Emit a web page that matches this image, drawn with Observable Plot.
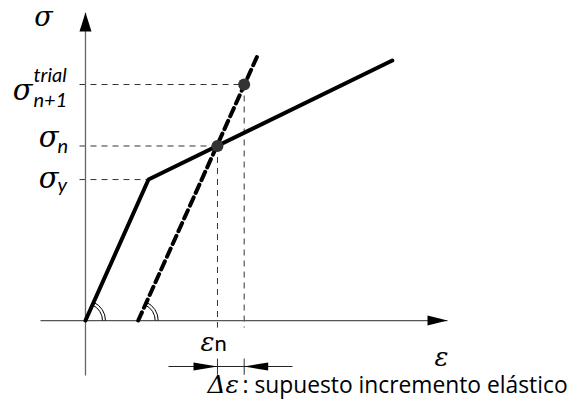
<!DOCTYPE html>
<html>
<head>
<meta charset="utf-8">
<script src="https://cdn.jsdelivr.net/npm/d3@7"></script>
<script src="https://cdn.jsdelivr.net/npm/@observablehq/plot@0.6"></script>
<style>
  html, body { margin: 0; padding: 0; background: #fff; }
  #chart svg { display: block; }
</style>
</head>
<body>
<div id="chart"></div>
<script>
// Strain ε and stress σ, both in units of the yield point (εy = σy = 1).
const pathEps = [0, 1.0, 4.87];        // elastic branch, then hardening branch
const pathSig = [0, 1.0, 1.844];
const predictorEps = [0.837, 2.746];   // elastic predictor from the unloaded state
const predictorSig = [0, 1.894];
const stateEps = [2.095, 2.519];       // converged state n, trial state n+1
const stateSig = [1.238, 1.674];
const yieldEps = 1.0;
const yieldSig = 1.0;
const axisEps = [-0.714, 5.746];       // extent of the ε axis
const axisSig = [-0.39, 2.184];        // extent of the σ axis
const guideStartEps = -0.095;          // where the dashed σ guides begin
const guideEndSig = -0.05;             // where the dashed ε guides end
const tickSig = [-0.27, -0.385];       // dimension ticks below the ε axis
const dimSig = -0.326;                 // Δε dimension line
const dimEps = [1.317, 3.286];
const caption = ": supuesto incremento elástico";

const W = 568, H = 409;
const xDomain = [-1.349, 7.667];
const yDomain = [-0.631, 2.27];
const kx = W / (xDomain[1] - xDomain[0]);   // px per unit strain
const ky = H / (yDomain[1] - yDomain[0]);   // px per unit stress

const pts = (xs, ys) => xs.map((x, i) => ({x, y: ys[i]}));

// filled arrowhead whose tip sits on the dot position
function arrowHead(dx, dy, len, half) {
  return {
    draw(ctx) {
      const bx = -dx * len, by = -dy * len;
      const px = -dy * half, py = dx * half;
      ctx.moveTo(0, 0);
      ctx.lineTo(bx + px, by + py);
      ctx.lineTo(bx - px, by - py);
      ctx.closePath();
    }
  };
}

// double angle arc from the ε axis up to a line of the given slope
function doubleArc(dSig, dEps, radii) {
  const theta = Math.atan2(ky * dSig, kx * dEps);
  return {
    draw(ctx) {
      for (const r of radii) {
        ctx.moveTo(r, 0);
        ctx.arc(0, 0, r, 0, -theta, true);
      }
    }
  };
}

const greek = {fontFamily: "DejaVu Serif", fontStyle: "italic", fill: "black", lineAnchor: "bottom"};
const latin = {fontFamily: "Lato", fill: "black", lineAnchor: "bottom"};

const yieldPt = {x: yieldEps, y: yieldSig};
const stateN = {x: stateEps[0], y: stateSig[0]};
const stateT = {x: stateEps[1], y: stateSig[1]};

const chart = Plot.plot({
  width: W,
  height: H,
  margin: 0,
  x: {domain: xDomain, axis: null},
  y: {domain: yDomain, axis: null},
  marks: [
    // dashed guides to the σ axis
    Plot.link([yieldPt, stateN, stateT], {
      x1: guideStartEps, y1: "y", x2: "x", y2: "y",
      stroke: "#333", strokeWidth: 1, strokeDasharray: "6,5"
    }),
    // dashed guides down to the ε axis
    Plot.link([stateN, stateT], {
      x1: "x", y1: "y", x2: "x", y2: guideEndSig,
      stroke: "#333", strokeWidth: 1, strokeDasharray: "6,5"
    }),
    // dimension ticks
    Plot.link([stateN, stateT], {
      x1: "x", y1: tickSig[0], x2: "x", y2: tickSig[1],
      stroke: "#333", strokeWidth: 1
    }),
    // dimension line
    Plot.link([{}], {x1: dimEps[0], x2: dimEps[1], y1: dimSig, y2: dimSig, stroke: "#222", strokeWidth: 1}),
    // axes
    Plot.link([{}], {x1: axisEps[0], x2: axisEps[1], y1: 0, y2: 0, stroke: "#555", strokeWidth: 1.3}),
    Plot.link([{}], {x1: 0, x2: 0, y1: axisSig[0], y2: axisSig[1], stroke: "#666", strokeWidth: 1.3}),
    // angle marks
    Plot.dot([{x: pathEps[0], y: pathSig[0]}], {
      x: "x", y: "y", r: 20,
      symbol: doubleArc(pathSig[1] - pathSig[0], pathEps[1] - pathEps[0], [17, 20]),
      fill: "none", stroke: "black", strokeWidth: 1
    }),
    Plot.dot([{x: predictorEps[0], y: predictorSig[0]}], {
      x: "x", y: "y", r: 20,
      symbol: doubleArc(predictorSig[1] - predictorSig[0], predictorEps[1] - predictorEps[0], [17, 20]),
      fill: "none", stroke: "black", strokeWidth: 1
    }),
    // elastoplastic response
    Plot.line(pts(pathEps, pathSig), {x: "x", y: "y", stroke: "black", strokeWidth: 4, strokeLinejoin: "miter"}),
    // elastic predictor
    Plot.line(pts(predictorEps, predictorSig), {x: "x", y: "y", stroke: "black", strokeWidth: 4, strokeDasharray: "9,5"}),
    // states n and n+1 trial
    Plot.dot([stateN, stateT], {x: "x", y: "y", r: 6, fill: "#333", stroke: "none"}),
    // arrowheads
    Plot.dot([{x: axisEps[1], y: 0}], {x: "x", y: "y", symbol: arrowHead(1, 0, 20, 5), fill: "black", stroke: "none"}),
    Plot.dot([{x: 0, y: axisSig[1]}], {x: "x", y: "y", symbol: arrowHead(0, -1, 19, 6), fill: "black", stroke: "none"}),
    Plot.dot([{x: stateEps[0], y: dimSig}], {x: "x", y: "y", symbol: arrowHead(1, 0, 24, 4), fill: "black", stroke: "none"}),
    Plot.dot([{x: stateEps[1], y: dimSig}], {x: "x", y: "y", symbol: arrowHead(-1, 0, 24, 4), fill: "black", stroke: "none"}),
    // axis labels
    Plot.text(["σ"], {...greek, x: 0, y: axisSig[1], text: d => d, dx: -42, dy: 13, fontSize: 27, textAnchor: "middle"}),
    Plot.text(["ε"], {...greek, x: axisEps[1], y: 0, text: d => d, dx: -6, dy: 45, fontSize: 26, textAnchor: "middle"}),
    // stress levels
    Plot.text(["σ"], {...greek, x: 0, y: yieldSig, text: d => d, dx: -27, dy: 8, fontSize: 29, textAnchor: "end"}),
    Plot.text(["y"], {...latin, x: 0, y: yieldSig, text: d => d, dx: -28, dy: 12, fontSize: 20, fontStyle: "italic", textAnchor: "start"}),
    Plot.text(["σ"], {...greek, x: 0, y: stateSig[0], text: d => d, dx: -27, dy: 1, fontSize: 29, textAnchor: "end"}),
    Plot.text(["n"], {...latin, x: 0, y: stateSig[0], text: d => d, dx: -28, dy: 7, fontSize: 20, fontStyle: "italic", textAnchor: "start"}),
    Plot.text(["σ"], {...greek, x: 0, y: stateSig[1], text: d => d, dx: -53, dy: 15, fontSize: 29, textAnchor: "end"}),
    Plot.text(["trial"], {...latin, x: 0, y: stateSig[1], text: d => d, dx: -52, dy: -3, fontSize: 20, fontStyle: "italic", textAnchor: "start"}),
    Plot.text(["n+1"], {...latin, x: 0, y: stateSig[1], text: d => d, dx: -52, dy: 22, fontSize: 20, fontStyle: "italic", textAnchor: "start"}),
    // strain label of state n
    Plot.text(["ε"], {...greek, x: stateEps[0], y: 0, text: d => d, dx: -3, dy: 30, fontSize: 26, textAnchor: "end"}),
    Plot.text(["n"], {...latin, x: stateEps[0], y: 0, text: d => d, dx: -3, dy: 30, fontSize: 22, textAnchor: "start"}),
    // increment label
    Plot.text(["Δε"], {...greek, x: stateEps[0], y: dimSig, text: d => d, dx: -10, dy: 27, fontSize: 25, textAnchor: "start"}),
    Plot.text([caption], {fontFamily: "Open Sans", fill: "black", lineAnchor: "bottom", x: stateEps[0], y: dimSig, text: d => d, dx: 25, dy: 27, fontSize: 22.8, textAnchor: "start"})
  ]
});

document.getElementById("chart").appendChild(chart);
</script>
</body>
</html>
